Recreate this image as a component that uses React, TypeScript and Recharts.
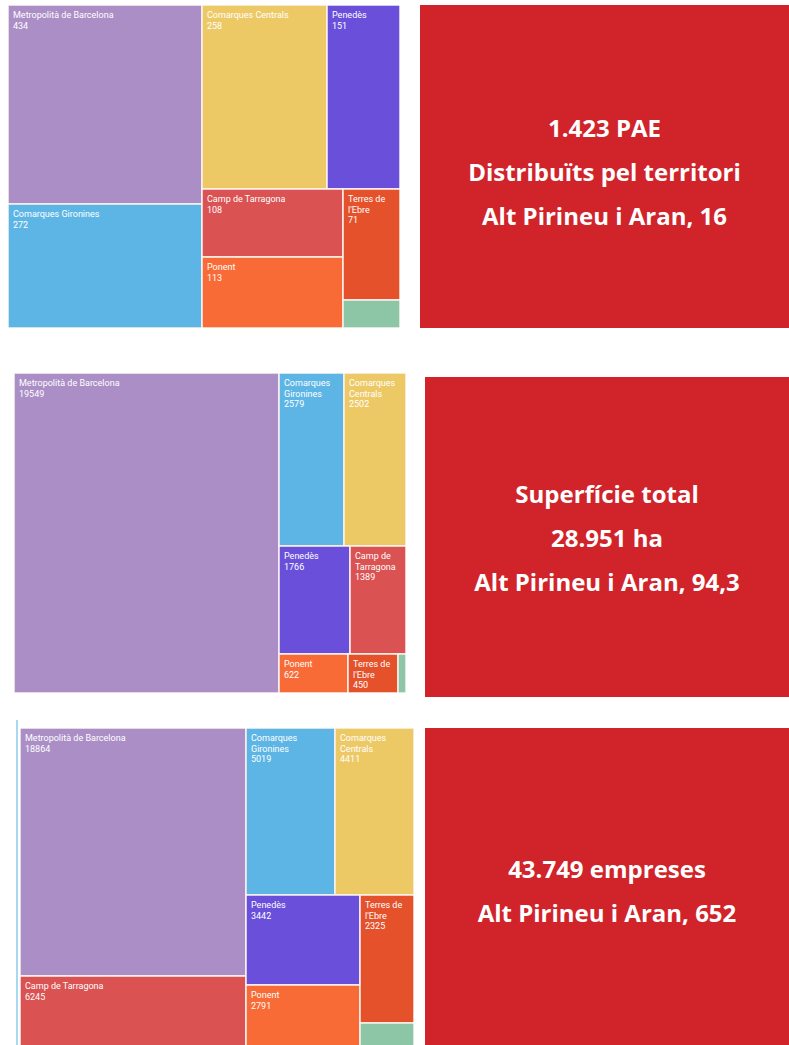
import { Treemap } from 'recharts';

// region order follows each treemap's tiling (left column first, then rows)
const regionsA = [
  'Metropolità de Barcelona',
  'Comarques Gironines',
  'Comarques Centrals',
  'Penedès',
  'Camp de Tarragona',
  'Ponent',
  "Terres de l'Ebre",
  'Alt Pirineu i Aran',
];
const paeValues = [434, 272, 258, 151, 108, 113, 71, 16];
const surfaceValues = [19549, 2579, 2502, 1766, 1389, 622, 450, 94.3];

const regionsB = [
  'Metropolità de Barcelona',
  'Camp de Tarragona',
  'Comarques Gironines',
  'Comarques Centrals',
  'Penedès',
  'Ponent',
  "Terres de l'Ebre",
  'Alt Pirineu i Aran',
];
const companyValues = [18864, 6245, 5019, 4411, 3442, 2791, 2325, 652];

const paeText = ['1.423 PAE', 'Distribuïts pel territori', 'Alt Pirineu i Aran, 16'];
const surfaceText = ['Superfície total', '28.951 ha', 'Alt Pirineu i Aran, 94,3'];
const companyText = ['43.749 empreses', 'Alt Pirineu i Aran, 652'];

const regionColors: Record<string, string> = {
  'Metropolità de Barcelona': '#ab8ec6',
  'Comarques Gironines': '#5db5e5',
  'Comarques Centrals': '#edc966',
  'Penedès': '#6a4fdb',
  'Camp de Tarragona': '#da5252',
  'Ponent': '#f86b36',
  "Terres de l'Ebre": '#e4512b',
  'Alt Pirineu i Aran': '#8cc6a6',
};

const toData = (names: string[], values: number[]) =>
  names.map((name, i) => ({ name, value: values[i] }));

const FS = 9;
const LH = 10.5;

// rough text width for the tile labels
function textW(s: string) {
  let em = 0;
  for (const c of s) {
    if ("ilrtfj'. ,I".includes(c)) em += 0.28;
    else if ('mwMW'.includes(c)) em += 0.85;
    else if (c >= 'A' && c <= 'Z') em += 0.62;
    else em += 0.53;
  }
  return em * FS;
}

function wrap(text: string, maxW: number) {
  const words = text.split(' ');
  const lines: string[] = [];
  let cur = '';
  for (const w of words) {
    const t = cur ? cur + ' ' + w : w;
    if (cur && textW(t) > maxW) {
      lines.push(cur);
      cur = w;
    } else {
      cur = t;
    }
  }
  if (cur) lines.push(cur);
  return lines;
}

function Tile(props: any) {
  const { x, y, width, height, name, value, depth } = props;
  if (depth !== 1) return null;
  let lines = width > 30 ? [...wrap(name, width - 13), String(value)] : [];
  if (13 + (lines.length - 1) * LH + 3 > height) lines = [];
  return (
    <g>
      <rect
        x={x}
        y={y}
        width={width}
        height={height}
        fill={regionColors[name]}
        stroke="#fbf3ee"
        strokeWidth={1.5}
      />
      {lines.map((l, i) => (
        <text
          key={i}
          x={x + 5}
          y={y + 13 + i * LH}
          fill="#fff"
          fontSize={FS}
          fontFamily="Roboto, sans-serif"
        >
          {l}
        </text>
      ))}
    </g>
  );
}

type BlockProps = {
  left: number;
  top: number;
  width: number;
  height: number;
  names: string[];
  values: number[];
};

function TreeBlock({ left, top, width, height, names, values }: BlockProps) {
  return (
    <div style={{ position: 'absolute', left, top, width, height }}>
      <Treemap
        width={width}
        height={height}
        data={toData(names, values)}
        dataKey="value"
        nameKey="name"
        isAnimationActive={false}
        content={<Tile />}
      />
    </div>
  );
}

type BoxProps = { left: number; top: number; width: number; height: number; shift: number; lines: string[] };

function RedBox({ left, top, width, height, shift, lines }: BoxProps) {
  return (
    <div
      style={{
        position: 'absolute',
        left,
        top,
        width,
        height,
        boxSizing: 'border-box',
        paddingTop: shift,
        background: '#d1232a',
        color: '#fff',
        display: 'flex',
        flexDirection: 'column',
        justifyContent: 'center',
        alignItems: 'center',
        fontFamily: '"Open Sans", sans-serif',
        fontWeight: 700,
        fontSize: 24,
        lineHeight: '44px',
      }}
    >
      {lines.map((l) => (
        <div key={l}>{l}</div>
      ))}
    </div>
  );
}

export default function App() {
  return (
    <div
      style={{
        position: 'fixed',
        left: 0,
        top: 0,
        width: 789,
        height: 1045,
        overflow: 'hidden',
        background: '#fff',
      }}
    >
      <TreeBlock left={8} top={5} width={392} height={323} names={regionsA} values={paeValues} />
      <RedBox left={420} top={5} width={369} height={323} shift={10} lines={paeText} />

      <TreeBlock left={14} top={373} width={392} height={320} names={regionsA} values={surfaceValues} />
      <RedBox left={425} top={377} width={364} height={320} shift={2} lines={surfaceText} />

      <div style={{ position: 'absolute', left: 16, top: 720, width: 2, height: 325, background: '#a9d9ef' }} />
      <TreeBlock left={20} top={728} width={394} height={330} names={regionsB} values={companyValues} />
      <RedBox left={425} top={728} width={364} height={325} shift={0} lines={companyText} />
    </div>
  );
}
